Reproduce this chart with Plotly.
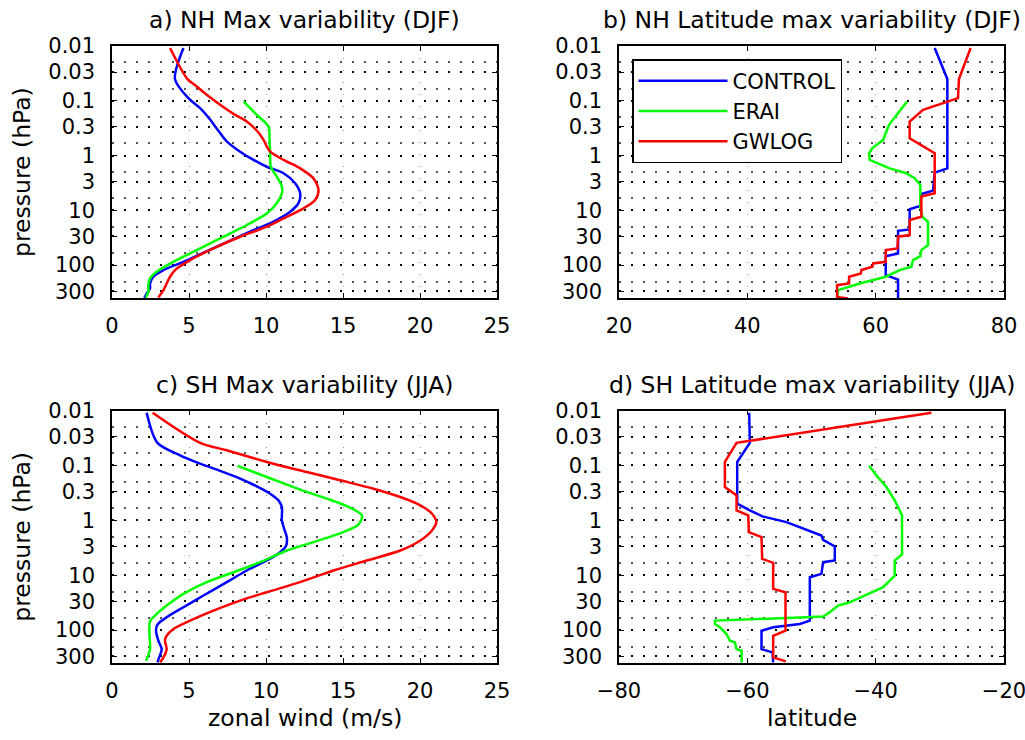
import plotly.graph_objects as go

# ---------------- data ----------------
p_ticks = [0.01, 0.03, 0.1, 0.3, 1, 3, 10, 30, 100, 300]
p_ticktext = ["0.01", "0.03", "0.1", "0.3", "1", "3", "10", "30", "100", "300"]
wind_ticks = [0, 5, 10, 15, 20, 25]
nh_lat_ticks = [20, 40, 60, 80]
sh_lat_ticks = [-80, -60, -40, -20]

# a) NH max variability (DJF)
a_ctl_p = [0.0109, 0.0402, 0.0895, 0.136, 0.22, 0.32, 0.55, 0.85, 1.2, 1.6, 2.1, 3.2, 4.9, 7.4, 10.6, 16, 26, 46, 87, 123, 163, 216, 267, 330, 398]
a_ctl_u = [4.64, 4.09, 4.96, 5.72, 6.37, 6.80, 7.45, 8.32, 9.19, 10.05, 11.14, 11.89, 12.22, 12.11, 11.57, 10.49, 8.75, 6.80, 4.64, 3.34, 2.69, 2.47, 2.47, 2.25, 2.10]
a_era_p = [0.103, 0.18, 0.295, 0.517, 0.906, 1.59, 2.42, 3.69, 4.89, 7.45, 11.4, 18.5, 30.3, 53.2, 86.9, 132, 175, 232, 308, 390]
a_era_u = [8.54, 9.40, 10.16, 10.23, 10.27, 10.31, 10.70, 11.03, 11.03, 10.70, 10.05, 8.75, 7.24, 5.50, 3.99, 2.90, 2.47, 2.36, 2.36, 2.19]
a_gw_p = [0.0109, 0.0402, 0.0547, 0.0777, 0.118, 0.173, 0.239, 0.349, 0.517, 0.684, 0.845, 1.2, 1.71, 2.6, 4.25, 6.47, 9.19, 13.1, 19.9, 30.3, 49.6, 81.1, 123, 163, 216, 286, 390]
a_gw_u = [3.77, 4.90, 5.50, 6.15, 7.02, 7.89, 8.75, 9.40, 9.84, 10.05, 10.27, 11.14, 12.22, 13.08, 13.41, 13.19, 12.44, 11.35, 10.05, 8.32, 6.59, 5.07, 4.09, 3.77, 3.55, 3.34, 3.01]

# b) NH latitude of max variability (DJF)
b_ctl_p = [0.0109, 0.0402, 1.71, 2.05, 4.37, 5.03, 8.3, 9.56, 22.3, 23.6, 61.4, 68.7, 152, 183, 408]
b_ctl_lat = [69.2, 71.17, 71.17, 69.2, 68.94, 67.12, 66.96, 65.30, 65.30, 63.49, 63.49, 61.57, 61.57, 63.49, 63.49]
b_era_p = [0.103, 0.18, 0.275, 0.517, 0.73, 0.906, 1.2, 1.71, 2.1, 2.6, 3.44, 8.55, 13.1, 16.2, 43.1, 53.2, 68.7, 81.1, 107, 123, 163, 216, 286, 380]
b_era_lat = [64.89, 63.23, 62.09, 61.15, 59.49, 58.97, 59.08, 62.19, 64.78, 66.08, 66.96, 66.96, 67.28, 68.16, 68.16, 67.12, 66.96, 65.82, 65.56, 63.75, 61.57, 57.52, 54.15, 53.99]
b_gw_p = [0.0109, 0.0402, 0.0895, 0.146, 0.239, 0.483, 0.906, 4.89, 5.6, 13.1, 15.0, 28.3, 30.3, 49.6, 53.2, 86.9, 93.2, 107, 123, 142, 163, 216, 232, 380, 408]
b_gw_lat = [74.80, 72.98, 72.83, 67.38, 65.30, 65.30, 69.20, 69.20, 67.12, 67.12, 65.30, 65.30, 63.49, 63.38, 61.57, 61.57, 59.60, 59.49, 57.78, 57.68, 55.86, 55.86, 53.99, 53.99, 55.70]

# c) SH max variability (JJA)
c_ctl_p = [0.011, 0.0389, 0.0654, 0.0929, 0.126, 0.174, 0.241, 0.328, 0.434, 0.574, 1.0, 1.43, 2.03, 2.88, 3.81, 5.41, 8.22, 13.4, 23.5, 38.4, 58.5, 79.6, 103, 156, 222, 306, 388]
c_ctl_u = [2.25, 2.95, 4.42, 5.72, 7.02, 8.32, 9.40, 10.27, 10.81, 11.03, 11.03, 11.18, 11.35, 11.31, 10.92, 10.05, 8.75, 7.45, 5.94, 4.64, 3.55, 2.95, 2.86, 3.01, 3.23, 3.08, 2.95]
c_era_p = [0.102, 0.163, 0.277, 0.404, 0.535, 0.815, 1.19, 1.64, 2.5, 3.55, 5.8, 8.83, 13.4, 21.9, 35.8, 54.5, 69.2, 118, 222, 362]
c_era_u = [8.15, 10.05, 12.22, 13.95, 15.14, 16.23, 16.01, 15.03, 13.08, 11.35, 9.62, 7.89, 6.15, 4.64, 3.55, 2.79, 2.47, 2.43, 2.47, 2.21]
c_gw_p = [0.011, 0.0389, 0.053, 0.0866, 0.132, 0.187, 0.266, 0.377, 0.535, 0.76, 1.08, 1.53, 2.33, 3.55, 5.41, 8.22, 13.4, 20.5, 29.0, 44.2, 67.3, 95.6, 127, 156, 222, 315, 388]
c_gw_u = [2.64, 5.72, 7.45, 10.05, 12.65, 14.82, 16.98, 18.72, 20.02, 20.78, 21.06, 20.78, 20.02, 18.72, 16.55, 14.38, 12.22, 10.05, 8.32, 6.59, 5.07, 3.99, 3.55, 3.44, 3.55, 3.34, 3.12]

# d) SH latitude of max variability (JJA)
d_ctl_p = [0.011, 0.0389, 0.0866, 0.499, 0.66, 0.85, 1.08, 1.33, 1.89, 2.27, 3.0, 5.41, 5.8, 9.46, 10.9, 67.3, 77.4, 89.1, 103, 222, 255, 388]
d_ctl_lat = [-59.71, -59.61, -61.58, -61.58, -59.61, -57.63, -53.90, -51.82, -48.45, -48.19, -46.37, -46.37, -48.19, -48.45, -50.26, -50.26, -51.82, -55.97, -57.79, -57.79, -56.08, -55.97]
d_era_p = [0.102, 0.152, 0.248, 0.434, 0.815, 4.2, 5.41, 10.2, 16.6, 21.9, 27.1, 31.2, 35.8, 47.4, 56.9, 67.3, 77.4, 89.1, 118, 156, 168, 222, 238, 388]
d_era_lat = [-41.03, -39.89, -38.33, -37.03, -35.89, -35.89, -37.03, -37.03, -38.85, -41.03, -42.74, -44.04, -45.85, -47.15, -48.19, -65.05, -65.05, -64.28, -63.24, -62.72, -61.94, -61.68, -60.90, -60.90]
d_gw_p = [0.011, 0.0389, 0.0866, 0.248, 0.352, 0.66, 0.815, 1.64, 2.03, 5.04, 5.96, 17.8, 20.5, 103, 127, 315, 372]
d_gw_lat = [-31.32, -61.68, -63.50, -63.50, -61.68, -61.68, -59.86, -59.76, -57.79, -57.69, -55.97, -55.97, -54.05, -54.05, -55.97, -55.97, -54.00]

series_names = ["CONTROL", "ERAI", "GWLOG"]
series_colors = ["#0000ff", "#00ff00", "#ff0000"]

panel_titles = ["a) NH Max variability (DJF)", "b) NH Latitude max variability (DJF)",
                "c) SH Max variability (JJA)", "d) SH Latitude max variability (JJA)"]

# ---------------- figure ----------------
W, H = 1025, 740
FONT = "DejaVu Sans, Liberation Sans, Arial, sans-serif"

# pixel boxes of the four panels: (left, right, top, bottom)
boxes = [(112, 497, 46, 298), (619, 1004, 46, 298),
         (112, 497, 410.5, 663), (619, 1004, 410.5, 663)]

fig = go.Figure()

panels = [
    ([(a_ctl_u, a_ctl_p), (a_era_u, a_era_p), (a_gw_u, a_gw_p)], "spline"),
    ([(b_ctl_lat, b_ctl_p), (b_era_lat, b_era_p), (b_gw_lat, b_gw_p)], "linear"),
    ([(c_ctl_u, c_ctl_p), (c_era_u, c_era_p), (c_gw_u, c_gw_p)], "spline"),
    ([(d_ctl_lat, d_ctl_p), (d_era_lat, d_era_p), (d_gw_lat, d_gw_p)], "linear"),
]

for i, (series, shape) in enumerate(panels):
    sfx = "" if i == 0 else str(i + 1)
    for j, (xv, pv) in enumerate(series):
        line = dict(color=series_colors[j], width=2.5, shape=shape)
        if shape == "spline":
            line["smoothing"] = 0.8
        fig.add_trace(go.Scatter(
            x=xv, y=pv, mode="lines", line=line,
            name=series_names[j], showlegend=(i == 1),
            xaxis="x" + sfx, yaxis="y" + sfx, hoverinfo="skip"))

x_ranges = [[0, 25], [20, 80], [0, 25], [-80, -20]]
x_tickvals = [wind_ticks, nh_lat_ticks, wind_ticks, sh_lat_ticks]

minor_rows = [0.02, 0.06, 0.2, 0.6, 2, 6, 20, 60, 200]

layout = dict(
    template="none",
    width=W, height=H, margin=dict(l=0, r=0, t=0, b=0, pad=0, autoexpand=False),
    paper_bgcolor="white", plot_bgcolor="white",
    font=dict(family=FONT, size=21, color="black"),
    showlegend=True,
    legend=dict(x=632 / W, y=1 - 59 / H, xanchor="left", yanchor="top",
                bgcolor="white", bordercolor="black", borderwidth=1.5,
                font=dict(size=21, family=FONT), itemwidth=89,
                tracegroupgap=0),
)

annotations = []
for i, (l, r, t, b) in enumerate(boxes):
    sfx = "" if i == 0 else str(i + 1)
    xa = dict(domain=[l / W, r / W], anchor="y" + sfx, range=x_ranges[i],
              tickmode="array", tickvals=x_tickvals[i], automargin=False,
              ticklabeloverflow="allow",
              ticks="inside", ticklen=5, tickwidth=1.2, tickcolor="black",
              showline=True, linecolor="black", linewidth=1.5, mirror="ticks",
              showgrid=True, gridcolor="#9a9a9a", gridwidth=1, griddash="1px,11px",
              zeroline=False, tickfont=dict(size=21), ticklabelstandoff=8)
    ya = dict(domain=[1 - b / H, 1 - t / H], anchor="x" + sfx, type="log",
              range=[2.6, -2], tickmode="array", tickvals=p_ticks, ticktext=p_ticktext,
              automargin=False, ticklabeloverflow="allow",
              ticks="inside", ticklen=5, tickwidth=1.2, tickcolor="black",
              showline=True, linecolor="black", linewidth=1.5, mirror="ticks",
              showgrid=True, gridcolor="black", gridwidth=2, griddash="2px,10px",
              minor=dict(tickmode="array", tickvals=minor_rows, showgrid=True,
                         gridcolor="#555555", gridwidth=1.5, griddash="2px,10px",
                         ticks=""),
              zeroline=False, tickfont=dict(size=21), ticklabelstandoff=11)
    layout["xaxis" + sfx] = xa
    layout["yaxis" + sfx] = ya
    annotations.append(dict(text=panel_titles[i], x=(l + r) / 2 / W, y=1 - (t - 26) / H,
                            xref="paper", yref="paper", showarrow=False,
                            xanchor="center", yanchor="middle", font=dict(size=23.5)))

for t, b in [(46, 298), (410.5, 663)]:
    annotations.append(dict(text="pressure (hPa)", x=22 / W, y=1 - (t + b) / 2 / H,
                            xref="paper", yref="paper", showarrow=False, textangle=-90,
                            xanchor="center", yanchor="middle", font=dict(size=23.5)))
annotations.append(dict(text="zonal wind (m/s)", x=304.5 / W, y=1 - 718 / H,
                        xref="paper", yref="paper", showarrow=False,
                        xanchor="center", yanchor="middle", font=dict(size=23.5)))
annotations.append(dict(text="latitude", x=811.5 / W, y=1 - 718 / H,
                        xref="paper", yref="paper", showarrow=False,
                        xanchor="center", yanchor="middle", font=dict(size=23.5)))
layout["annotations"] = annotations

fig.update_layout(**layout)
fig.write_html("out.html")
